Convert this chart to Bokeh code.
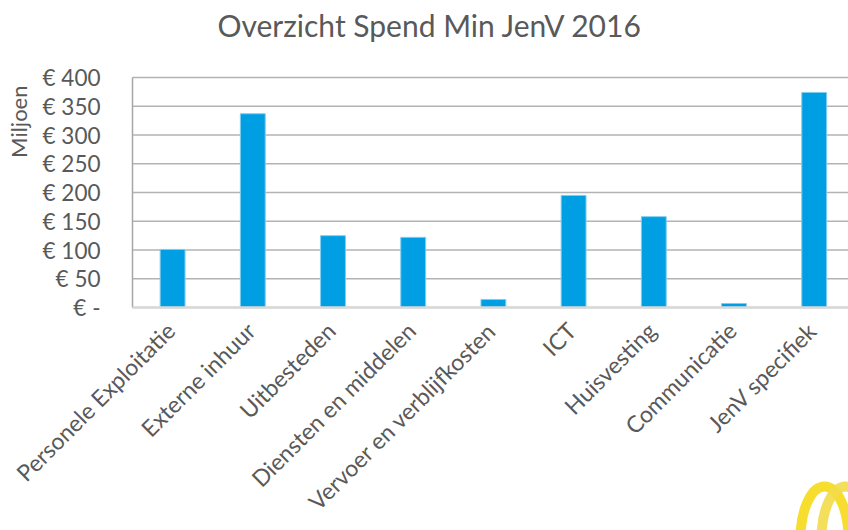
import math
from bokeh.plotting import figure
from bokeh.models import Range1d, ColumnDataSource
from bokeh.core.properties import value
from bokeh.embed import file_html
from bokeh.resources import INLINE

categories = ["Personele Exploitatie", "Externe inhuur", "Uitbesteden", "Diensten en middelen",
              "Vervoer en verblijfkosten", "ICT", "Huisvesting", "Communicatie", "JenV specifiek"]
values = [101, 337, 125, 122, 14, 195, 158, 7, 374]
y_ticks = [0, 50, 100, 150, 200, 250, 300, 350, 400]
y_tick_labels = ["€ -", "€ 50", "€ 100", "€ 150", "€ 200", "€ 250", "€ 300", "€ 350", "€ 400"]
title_text = "Overzicht Spend Min JenV 2016"
y_label = "Miljoen"

FONT = "Lato"
GREY = "#595959"

# layout (pixels)
W, H = 848, 530
PLOT_LEFT, PLOT_TOP, PLOT_BOTTOM = 132, 77, 307
PX_PER_CAT = 80.2
Y_MAX = y_ticks[-1]
PX_PER_UNIT = (PLOT_BOTTOM - PLOT_TOP) / Y_MAX

x0 = -PLOT_LEFT / PX_PER_CAT
x1 = (W - PLOT_LEFT) / PX_PER_CAT
y1 = Y_MAX + PLOT_TOP / PX_PER_UNIT
y0 = -(H - PLOT_BOTTOM) / PX_PER_UNIT


def px_x(px):
    return x0 + px / PX_PER_CAT


def px_y(py):
    return y1 - py / PX_PER_UNIT


xs = [i + 0.5 for i in range(len(categories))]
bars = ColumnDataSource(data=dict(x=xs, top=values, base=[0] * len(xs), cat=categories))
ticks = ColumnDataSource(data=dict(y=y_ticks, lab=y_tick_labels, x=[0] * len(y_ticks),
                                   xend=[x1] * len(y_ticks)))

p = figure(width=W, height=H, output_backend="svg", toolbar_location=None,
           x_range=Range1d(x0, x1), y_range=Range1d(y0, y1),
           x_axis_location=None, y_axis_location=None, title_location=None, min_border=0)
p.outline_line_color = None
p.grid.visible = False

# gridlines
p.segment(x0="x", y0="y", x1="xend", y1="y", source=ticks, line_color="#b3b3b3", line_width=1.5)
# value axis line
p.segment(x0=[0], y0=[0], x1=[0], y1=[Y_MAX], line_color="#a6a6a6", line_width=1.5)

p.vbar(x="x", top="top", width=0.31, source=bars, fill_color="#009FE3", line_color="#7fcdf0", line_width=1)

# category axis line
p.segment(x0=[0], y0=[0], x1=[x1], y1=[0], line_color="#d9d9d9", line_width=2.5)

# value tick labels
p.text(x="x", y="y", text="lab", source=ticks, text_align="right", text_baseline="middle",
       x_offset=-32, text_font=value(FONT), text_font_size="22.5px", text_color=GREY)

# category labels
p.text(x="x", y="base", text="cat", source=bars, angle=math.pi / 4,
       text_align="right", text_baseline="top", x_offset=-12, y_offset=9,
       text_font=value(FONT), text_font_size="23px", text_color=GREY)

# axis title
p.text(x=[0], y=[Y_MAX], text=[y_label], angle=math.pi / 2, text_align="right", text_baseline="middle",
       x_offset=-114, y_offset=8, text_font=value(FONT), text_font_size="22px", text_color=GREY)

# chart title
p.text(x=[0], y=[Y_MAX], text=[title_text], text_align="left", text_baseline="alphabetic",
       x_offset=85, y_offset=-53, text_font=value(FONT), text_font_size="30px", text_color=GREY)

# decorative logo rings (bottom right corner)
p.ellipse(x=[px_x(824), px_x(845)], y=[px_y(538), px_y(538)], width=[48, 48], height=[104, 104],
          width_units="screen", height_units="screen", fill_color=None,
          line_color=["#f6d917", "#f3dc4a"], line_width=10, line_alpha=0.9)

open("out.html", "w").write(file_html(p, INLINE))
